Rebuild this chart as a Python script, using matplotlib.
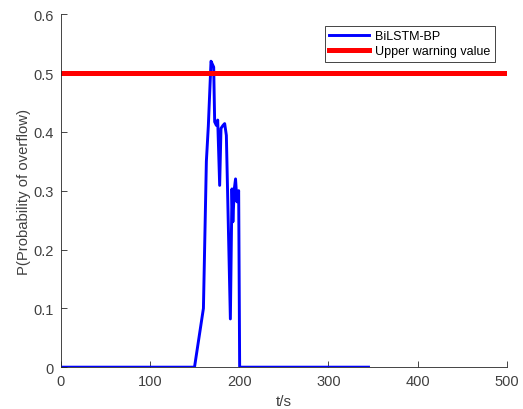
import matplotlib
matplotlib.use('Agg')
import matplotlib.pyplot as plt

# BiLSTM-BP overflow probability
t = [0, 150, 160, 163.3, 165.5, 168.5, 170, 171.5, 172.6, 174.5, 176, 178.2,
     179.7, 182, 183.8, 185.7, 190.2, 192, 193, 194.6, 196, 197.6, 199.5,
     200.6, 345]
p = [0, 0, 0.10, 0.35, 0.41, 0.52, 0.515, 0.51, 0.417, 0.411, 0.42, 0.309,
     0.406, 0.411, 0.414, 0.394, 0.082, 0.303, 0.247, 0.303, 0.32, 0.281, 0.30,
     0, 0]

warn_x = [0, 500]
warn_y = [0.5, 0.5]

xticks = [0, 100, 200, 300, 400, 500]
yticks = [0, 0.1, 0.2, 0.3, 0.4, 0.5, 0.6]

plt.rcParams['font.family'] = ['Liberation Sans', 'DejaVu Sans']
grey = (0.15, 0.15, 0.15)
txt = (0.25, 0.25, 0.25)

fig = plt.figure(figsize=(5.23, 4.10), dpi=100)
ax = fig.add_axes([0.116, 0.102, 0.853, 0.861])

ax.plot(t, p, color='#0000ff', lw=2.1, label='BiLSTM-BP')
ax.plot(warn_x, warn_y, color='#ff0000', lw=3.6, label='Upper warning value')

ax.set_xlim(0, 500)
ax.set_ylim(0, 0.6)
ax.set_xticks(xticks)
ax.set_yticks(yticks)
ax.set_xticklabels([str(v) for v in xticks])
ax.set_yticklabels(['0', '0.1', '0.2', '0.3', '0.4', '0.5', '0.6'])

for side in ['top', 'right']:
    ax.spines[side].set_visible(False)
for side in ['left', 'bottom']:
    ax.spines[side].set_color(grey)
    ax.spines[side].set_linewidth(0.6)
ax.tick_params(direction='in', length=4, width=0.6, colors=grey,
               labelcolor=txt, labelsize=10.5, pad=5)

ax.set_xlabel('t/s', fontsize=11, color=txt, labelpad=4)
ax.set_ylabel('P(Probability of overflow)', fontsize=10.7, color=txt, labelpad=2)

leg = ax.legend(loc='upper right', bbox_to_anchor=(495 / 523, 1 - 27 / 410),
                bbox_transform=fig.transFigure, fancybox=False, framealpha=1,
                edgecolor=grey, fontsize=9, handlelength=3.2,
                borderaxespad=0, borderpad=0.35, labelspacing=0.25,
                handletextpad=0.5)
leg.get_frame().set_linewidth(0.6)
for text in leg.get_texts():
    text.set_color('black')

fig.savefig('out.png', dpi=100)
